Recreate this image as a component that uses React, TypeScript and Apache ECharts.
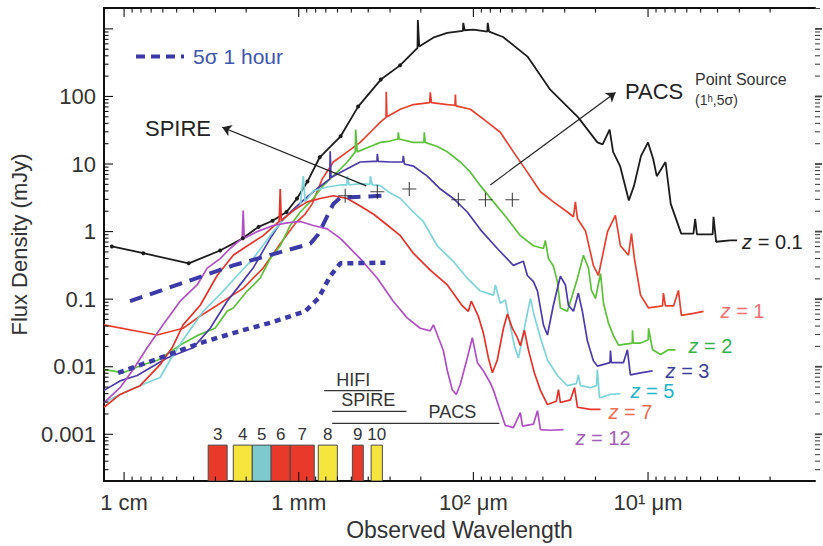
import React, { useEffect, useRef } from "react";
import * as echarts from "echarts";

// All curve values: [log10(wavelength / µm), log10(flux density / mJy)]
const z01: [number, number][] = [
  [4.07, -0.22], [3.89, -0.32], [3.63, -0.47], [3.45, -0.28], [3.32, -0.1], [3.23, 0.07], [3.15, 0.16],
  [3.07, 0.29], [3.01, 0.49], [2.95, 0.74], [2.88, 1.1], [2.76, 1.41], [2.66, 1.85], [2.53, 2.25],
  [2.42, 2.46], [2.32, 2.72], [2.318, 3.13], [2.31, 2.74], [2.23, 2.87], [2.15, 2.94], [2.06, 2.97],
  [2.058, 3.09], [2.05, 2.98], [2.0, 2.99], [1.92, 2.96], [1.918, 3.09], [1.91, 2.96], [1.83, 2.88],
  [1.69, 2.59], [1.56, 2.1], [1.4, 1.69], [1.29, 1.32], [1.26, 1.29], [1.22, 1.51], [1.2, 1.18],
  [1.16, 0.97], [1.11, 0.46], [1.08, 0.68], [1.04, 1.12], [1.0, 1.32], [0.97, 1.07], [0.95, 0.82],
  [0.9, 1.03], [0.87, 0.41], [0.81, -0.03], [0.74, -0.03], [0.73, 0.19], [0.72, -0.04], [0.63, -0.04],
  [0.625, 0.22], [0.61, -0.15], [0.53, -0.13], [0.49, -0.13],
];
const z1: [number, number][] = [
  [4.115, -1.38], [3.811, -1.53], [3.662, -1.43], [3.564, -1.25], [3.467, -1.09], [3.318, -0.84],
  [3.204, -0.54], [3.106, -0.18], [3.02, 0.12], [2.963, 0.26], [2.923, 0.41], [2.865, 0.78],
  [2.802, 1.03], [2.722, 1.18], [2.648, 1.32], [2.59, 1.47], [2.533, 1.62], [2.5, 1.69], [2.499, 2.07],
  [2.495, 1.7], [2.418, 1.81], [2.344, 1.88], [2.25, 1.91], [2.247, 2.06], [2.24, 1.91], [2.149, 1.88],
  [2.105, 1.87], [2.103, 2.03], [2.1, 1.86], [2.017, 1.81], [1.92, 1.62], [1.846, 1.47], [1.771, 1.18],
  [1.691, 0.88], [1.616, 0.59], [1.542, 0.44], [1.462, 0.29], [1.427, 0.22], [1.416, 0.44], [1.404, 0.19],
  [1.358, 0.01], [1.313, -0.5], [1.284, -0.65], [1.232, 0.0], [1.187, 0.24], [1.158, -0.21], [1.112, -0.35],
  [1.095, -0.03], [1.078, -0.4], [1.043, -0.94], [0.997, -1.13], [0.917, -1.1], [0.912, -0.91],
  [0.9, -1.1], [0.854, -1.1], [0.826, -0.87], [0.809, -1.24], [0.74, -1.21], [0.682, -1.18],
];
const z2: [number, number][] = [
  [4.115, -2.04], [4.006, -2.09], [3.891, -1.97], [3.805, -1.9], [3.679, -1.68], [3.582, -1.54],
  [3.479, -1.43], [3.41, -1.18], [3.375, -1.13], [3.295, -0.88], [3.221, -0.69], [3.163, -0.4],
  [3.106, -0.21], [3.049, 0.09], [2.991, 0.29], [2.917, 0.49], [2.86, 0.68], [2.78, 0.88], [2.722, 1.03],
  [2.676, 1.18], [2.674, 1.51], [2.665, 1.18], [2.59, 1.26], [2.533, 1.32], [2.476, 1.34], [2.432, 1.37],
  [2.43, 1.47], [2.425, 1.37], [2.344, 1.32], [2.283, 1.32], [2.281, 1.47], [2.276, 1.32], [2.207, 1.26],
  [2.149, 1.18], [2.075, 1.03], [2.017, 0.88], [1.96, 0.68], [1.885, 0.44], [1.805, 0.19], [1.731, -0.06],
  [1.656, -0.21], [1.599, -0.25], [1.588, -0.13], [1.57, -0.4], [1.542, -0.51], [1.519, -0.74],
  [1.502, -1.13], [1.462, -1.18], [1.433, -0.94], [1.404, -0.69], [1.37, -0.35], [1.341, -0.54],
  [1.324, -0.87], [1.301, -0.99], [1.272, -0.62], [1.255, -1.06], [1.227, -1.35], [1.198, -1.54],
  [1.169, -1.68], [1.09, -1.65], [1.089, -1.46], [1.085, -1.65], [1.043, -1.65], [0.999, -1.6],
  [0.997, -1.43], [0.974, -1.75], [0.928, -1.82], [0.883, -1.75], [0.843, -1.75],
];
const z3: [number, number][] = [
  [4.115, -2.35], [4.023, -2.21], [3.925, -2.13], [3.754, -1.87], [3.605, -1.72], [3.507, -1.43],
  [3.41, -1.03], [3.352, -0.84], [3.261, -0.54], [3.163, -0.1], [3.089, 0.19], [3.009, 0.38],
  [2.917, 0.59], [2.822, 0.78], [2.82, 1.19], [2.815, 0.8], [2.722, 0.93], [2.648, 1.03], [2.573, 1.04],
  [2.552, 1.04], [2.55, 1.15], [2.545, 1.04], [2.476, 1.03], [2.405, 1.03], [2.401, 1.12], [2.395, 1.0],
  [2.344, 0.97], [2.264, 0.82], [2.189, 0.63], [2.115, 0.49], [2.035, 0.29], [1.96, 0.03], [1.863, -0.25],
  [1.771, -0.5], [1.714, -0.44], [1.691, -0.65], [1.656, -0.74], [1.633, -0.88], [1.599, -1.38],
  [1.576, -1.53], [1.542, -1.09], [1.502, -0.66], [1.473, -0.79], [1.456, -1.09], [1.427, -1.18],
  [1.399, -0.91], [1.376, -1.18], [1.347, -1.62], [1.313, -1.91], [1.29, -1.99], [1.218, -1.94],
  [1.215, -1.76], [1.21, -1.94], [1.141, -1.94], [1.118, -1.75], [1.101, -2.12], [1.043, -2.09],
  [0.974, -2.06],
];
const z5: [number, number][] = [
  [4.115, -2.53], [3.966, -2.34], [3.794, -2.16], [3.736, -1.9], [3.662, -1.6], [3.547, -1.18],
  [3.433, -0.88], [3.352, -0.65], [3.261, -0.4], [3.146, 0.0], [3.066, 0.24], [2.991, 0.38],
  [2.974, 0.82], [2.963, 0.44], [2.917, 0.6], [2.837, 0.66], [2.762, 0.69], [2.724, 0.69], [2.722, 0.82],
  [2.711, 0.69], [2.648, 0.71], [2.592, 0.7], [2.59, 0.82], [2.579, 0.69], [2.533, 0.68], [2.476, 0.57],
  [2.418, 0.49], [2.344, 0.29], [2.287, 0.15], [2.207, -0.21], [2.115, -0.44], [2.035, -0.69],
  [1.96, -0.88], [1.885, -0.94], [1.874, -0.79], [1.846, -1.06], [1.817, -1.01], [1.788, -1.4],
  [1.765, -1.69], [1.742, -1.87], [1.719, -1.57], [1.691, -1.21], [1.673, -0.99], [1.651, -1.25],
  [1.616, -1.57], [1.576, -1.9], [1.519, -2.13], [1.462, -2.28], [1.41, -2.25], [1.399, -2.12],
  [1.387, -2.28], [1.33, -2.31], [1.295, -2.28], [1.29, -2.04], [1.278, -2.46], [1.215, -2.41],
  [1.158, -2.4],
];
const z7: [number, number][] = [
  [4.115, -2.6], [4.023, -2.41], [3.908, -2.28], [3.794, -1.97], [3.725, -1.72], [3.662, -1.38],
  [3.564, -1.09], [3.467, -0.65], [3.375, -0.35], [3.318, -0.25], [3.204, -0.06], [3.112, 0.15],
  [3.106, 0.63], [3.1, 0.16], [3.032, 0.31], [2.951, 0.44], [2.877, 0.49], [2.802, 0.53], [2.722, 0.49],
  [2.648, 0.38], [2.573, 0.26], [2.504, 0.12], [2.418, -0.06], [2.344, -0.32], [2.247, -0.57],
  [2.149, -0.79], [2.063, -1.1], [2.029, -1.18], [2.012, -1.03], [1.972, -1.25], [1.943, -1.5],
  [1.914, -1.87], [1.891, -2.09], [1.863, -1.9], [1.828, -1.43], [1.805, -1.22], [1.777, -1.43],
  [1.748, -1.57], [1.731, -1.69], [1.708, -1.46], [1.685, -1.75], [1.651, -2.09], [1.616, -2.35],
  [1.576, -2.56], [1.525, -2.51], [1.513, -2.34], [1.502, -2.53], [1.444, -2.49], [1.421, -2.31],
  [1.404, -2.6], [1.33, -2.63], [1.272, -2.63],
];
const z12: [number, number][] = [
  [4.115, -2.53], [4.023, -2.31], [3.948, -2.04], [3.868, -1.72], [3.777, -1.38], [3.679, -1.03],
  [3.582, -0.79], [3.524, -0.54], [3.45, -0.4], [3.393, -0.25], [3.324, -0.1], [3.318, 0.31],
  [3.312, -0.1], [3.238, 0.0], [3.146, 0.09], [3.066, 0.13], [2.991, 0.15], [2.917, 0.09], [2.837, 0.04],
  [2.762, -0.1], [2.648, -0.4], [2.55, -0.69], [2.459, -1.03], [2.378, -1.28], [2.304, -1.43],
  [2.247, -1.47], [2.229, -1.38], [2.206, -1.53], [2.172, -1.76], [2.149, -2.06], [2.121, -2.34],
  [2.098, -2.41], [2.075, -2.26], [2.035, -1.87], [2.006, -1.57], [1.977, -1.94], [1.943, -2.06],
  [1.903, -2.24], [1.885, -2.35], [1.846, -2.65], [1.817, -2.87], [1.771, -2.9], [1.731, -2.68],
  [1.719, -2.88], [1.656, -2.85], [1.633, -2.65], [1.616, -2.93], [1.559, -2.94], [1.484, -2.93],
];
// 5 sigma, 1 hour sensitivity limits
const sens5SigmaDashed: [number, number][] = [
  [3.966, -1.03], [3.375, -0.5], [2.934, -0.18], [2.888, -0.04], [2.802, 0.41], [2.762, 0.5], [2.516, 0.53],
];
const sensDotted: [number, number][] = [
  [4.034, -2.09], [3.794, -1.87], [3.564, -1.65], [3.335, -1.47], [3.163, -1.35], [2.963, -1.18],
  [2.888, -0.99], [2.82, -0.66], [2.762, -0.47], [2.504, -0.46],
];
// SPIRE / PACS point-source limits (+ markers)
const pointSourceLimits: [number, number][] = [
  [2.734, 0.53], [2.55, 0.59], [2.367, 0.63], [2.086, 0.47], [1.931, 0.47], [1.777, 0.47],
];
// Annotation arrows: [from, to]
const arrowSpire: [number, number][] = [[2.613, 0.676], [3.438, 1.544]];
const arrowPacs: [number, number][] = [[1.903, 0.691], [1.186, 2.059]];

// ALMA bands (wavelength ranges in µm)
const bandNames = ["3", "4", "5", "6", "7", "8", "9", "10"];
const bandRangesUm: [number, number][] = [
  [3300, 2570], [2370, 1845], [1845, 1439], [1439, 1119], [1119, 815], [773, 601], [493, 427], [385, 332],
];
// Instrument coverage (µm): [long end, short end, label position]
const instrumentNames = ["HIFI", "SPIRE", "PACS"];
const instrumentRangesUm: [number, number, number][] = [
  [715, 332, 488], [643, 242, 400], [643, 71, 132],
];

const X_MAJOR = [1, 2, 3, 4];
const X_TICK_LABELS = ["10¹ μm", "10² μm", "1 mm", "1 cm"];
const Y_MAJOR = [-3, -2, -1, 0, 1, 2, 3];
const Y_LABEL_VALUES = [-3, -2, -1, 0, 1, 2];
const Y_TICK_LABELS = ["0.001", "0.01", "0.1", "1", "10", "100"];

const X_MIN = 0.044;
const X_MAX = 4.115;
const Y_MIN = -3.691;
const Y_MAX = 3.309;

const W = 823;
const H = 546;
const GRID = { left: 104, right: 8, top: 8, bottom: 62 };

const FONT = "'Liberation Sans', Arial, Helvetica, sans-serif";
const TXT = "#333";

const minorTicks = (lo: number, hi: number) => {
  const out: number[] = [];
  for (let n = Math.floor(lo); n <= Math.ceil(hi); n++) {
    for (let k = 2; k <= 9; k++) {
      const v = n + Math.log10(k);
      if (v > lo && v < hi) out.push(v);
    }
  }
  return out;
};

const curveStyles = [
  { name: "0.1", data: z01, color: "#1c1c1c", label: "#222222", width: 1.8, gap: 5, dy: 2, markers: 15 },
  { name: "1", data: z1, color: "#e8402f", label: "#f26f72", width: 1.7, gap: 17, dy: 0, markers: 0 },
  { name: "2", data: z2, color: "#5cc23a", label: "#35b24c", width: 1.7, gap: 13, dy: -4, markers: 0 },
  { name: "3", data: z3, color: "#4b3caa", label: "#3b3f9a", width: 1.7, gap: 13, dy: 0, markers: 0 },
  { name: "5", data: z5, color: "#7dd5d8", label: "#1db5c8", width: 1.7, gap: 10, dy: -3, markers: 0 },
  { name: "7", data: z7, color: "#e5332b", label: "#f26c4f", width: 1.7, gap: 8, dy: 3, markers: 0 },
  { name: "12", data: z12, color: "#b24fc6", label: "#a260b6", width: 1.7, gap: 12, dy: 8, markers: 0 },
];

const SENS_COLOR = "#3b3aa8";
const BAND_COLORS = ["#e9392b", "#f5e53c", "#7ccacd", "#e9392b", "#e9392b", "#f5e53c", "#e9392b", "#f5e53c"];
const BAND_TOP_LOG = -3.16;
const INSTRUMENT_LEVELS = [-2.353, -2.662, -2.838];

const baseGraphics = [
  { type: "text", x: 145, y: 128, style: { text: "SPIRE", fontSize: 22, fontFamily: FONT, fill: "#222", verticalAlign: "middle" } },
  { type: "text", x: 625, y: 91, style: { text: "PACS", fontSize: 22, fontFamily: FONT, fill: "#222", verticalAlign: "middle" } },
  { type: "text", x: 695, y: 79, style: { text: "Point Source", fontSize: 16, fontFamily: FONT, fill: "#333", verticalAlign: "middle" } },
  { type: "text", x: 695, y: 100, style: { text: "(1ʰ,5σ)", fontSize: 14, fontFamily: FONT, fill: "#333", verticalAlign: "middle" } },
];

// Tick mark specs: [value, length, major]
const xTickSpecs = () => [...X_MAJOR.map((v) => [v, 9, 1]), ...minorTicks(X_MIN, X_MAX).map((v) => [v, 4.5, 0])];
const yTickSpecs = () => [...Y_MAJOR.map((v) => [v, 9, 1]), ...minorTicks(Y_MIN, Y_MAX).map((v) => [v, 4.5, 0])];

// Tick items for a custom series: [x, y, side(0 bottom,1 top,2 left,3 right), length, major]
function buildTickRows() {
  const rows: number[][] = [];
  xTickSpecs().forEach(([v, len, major]) => {
    rows.push([v, Y_MIN, 0, len, major]);
    rows.push([v, Y_MAX, 1, len, major]);
  });
  yTickSpecs().forEach(([v, len, major]) => {
    rows.push([X_MAX, v, 2, len, major]);
    rows.push([X_MIN, v, 3, major ? 7 : 5, major]);
  });
  return rows;
}

function buildOption() {
  const xCommon = { type: "value", min: X_MIN, max: X_MAX, inverse: true, splitLine: { show: false } };
  const yCommon = { type: "value", min: Y_MIN, max: Y_MAX, splitLine: { show: false } };

  const curveSeries = curveStyles.map((c) => ({
    type: "line",
    name: "z = " + c.name,
    data: c.data.map((p, i) =>
      i < c.markers ? { value: p, symbol: "circle", symbolSize: 4 } : { value: p }
    ),
    showSymbol: true,
    symbol: "none",
    lineStyle: { color: c.color, width: c.width },
    itemStyle: { color: c.color },
    z: 3,
    endLabel: {
      show: true,
      formatter: "{i|z} = " + c.name,
      align: "left",
      distance: 0,
      offset: [c.gap, c.dy],
      color: c.label,
      fontSize: 20,
      fontFamily: FONT,
      rich: { i: { fontStyle: "italic", color: c.label, fontSize: 20, fontFamily: FONT } },
    },
  }));

  return {
    animation: false,
    backgroundColor: "#ffffff",
    grid: GRID,
    legend: {
      show: true,
      left: 131,
      top: 41,
      data: ["5σ 1 hour"],
      icon: "path://M0,0h9v4h-9z M15,0h9v4h-9z M30,0h9v4h-9z M45,0h3v4h-3z",
      itemWidth: 48,
      itemHeight: 4,
      selectedMode: false,
      itemStyle: { color: SENS_COLOR },
      textStyle: { fontSize: 21, color: "#3d55ae", fontFamily: FONT, padding: [0, 0, 0, 4] },
    },
    xAxis: [
      {
        ...xCommon,
        position: "bottom",
        axisLine: { show: true, onZero: false, lineStyle: { color: "#111", width: 2 } },
        axisTick: { show: false },
        axisLabel: {
          show: true,
          customValues: X_MAJOR,
          formatter: (v: number) => X_TICK_LABELS[X_MAJOR.indexOf(Math.round(v))],
          fontSize: 22,
          color: TXT,
          margin: 10,
          fontFamily: FONT,
        },
        name: "Observed Wavelength",
        nameLocation: "middle",
        nameGap: 37,
        nameTextStyle: { fontSize: 23, color: TXT, fontFamily: FONT },
      },
      {
        ...xCommon,
        position: "top",
        axisLine: { show: true, onZero: false, lineStyle: { color: "#111", width: 2 } },
        axisTick: { show: false },
        axisLabel: { show: false },
      },
    ],
    yAxis: [
      {
        ...yCommon,
        position: "left",
        axisLine: { show: true, onZero: false, lineStyle: { color: "#111", width: 2 } },
        axisTick: { show: false },
        axisLabel: {
          show: true,
          customValues: Y_LABEL_VALUES,
          formatter: (v: number) => Y_TICK_LABELS[Y_LABEL_VALUES.indexOf(Math.round(v))],
          fontSize: 22,
          color: TXT,
          margin: 8,
          fontFamily: FONT,
        },
        name: "Flux Density (mJy)",
        nameLocation: "middle",
        nameRotate: 90,
        nameGap: 69,
        nameTextStyle: { fontSize: 22, color: TXT, fontFamily: FONT },
      },
    ],
    graphic: baseGraphics,
    series: [
      {
        type: "custom",
        name: "ALMA bands",
        clip: true,
        z: 2,
        data: bandRangesUm.map((b, i) => [Math.log10(b[0]), Math.log10(b[1]), i]),
        renderItem: (params: any, api: any) => {
          const i = api.value(2);
          const p1 = api.coord([api.value(0), BAND_TOP_LOG]);
          const p2 = api.coord([api.value(1), Y_MIN]);
          const x = Math.min(p1[0], p2[0]);
          const w = Math.abs(p2[0] - p1[0]);
          return {
            type: "group",
            children: [
              {
                type: "rect",
                shape: { x, y: p1[1], width: w, height: p2[1] - p1[1] },
                style: { fill: BAND_COLORS[i], stroke: "#4a4a4a", lineWidth: 1 },
              },
              {
                type: "text",
                style: {
                  text: bandNames[i],
                  x: x + w / 2,
                  y: p1[1] - 11,
                  align: "center",
                  verticalAlign: "middle",
                  fontSize: 17,
                  fontFamily: FONT,
                  fill: TXT,
                },
              },
            ],
          };
        },
      },
      {
        type: "custom",
        name: "Instruments",
        clip: true,
        z: 2,
        data: instrumentRangesUm.map((r, i) => [Math.log10(r[0]), Math.log10(r[1]), Math.log10(r[2]), i]),
        renderItem: (params: any, api: any) => {
          const i = api.value(3);
          const lvl = INSTRUMENT_LEVELS[i];
          const a = api.coord([api.value(0), lvl]);
          const b = api.coord([api.value(1), lvl]);
          const t = api.coord([api.value(2), lvl]);
          return {
            type: "group",
            children: [
              { type: "line", shape: { x1: a[0], y1: a[1], x2: b[0], y2: b[1] }, style: { stroke: "#333", lineWidth: 1.2 } },
              {
                type: "text",
                style: {
                  text: instrumentNames[i],
                  x: t[0],
                  y: t[1] - 11,
                  align: "center",
                  verticalAlign: "middle",
                  fontSize: 18,
                  fontFamily: FONT,
                  fill: TXT,
                },
              },
            ],
          };
        },
      },
      {
        type: "custom",
        name: "Axis ticks",
        z: 7,
        data: buildTickRows(),
        renderItem: (params: any, api: any) => {
          const p = api.coord([api.value(0), api.value(1)]);
          const side = api.value(2);
          const len = api.value(3);
          const major = api.value(4);
          let x2 = p[0];
          let y2 = p[1];
          if (side === 0) y2 = p[1] - len;
          else if (side === 1) y2 = p[1] + len;
          else x2 = p[0] + len;
          return {
            type: "line",
            shape: { x1: p[0], y1: p[1], x2, y2 },
            style: {
              stroke: side === 3 ? "#444" : "#111",
              lineWidth: side === 3 && major ? 1.8 : 1.1,
            },
          };
        },
      },
      {
        type: "line",
        name: "5σ 1 hour",
        data: sens5SigmaDashed,
        symbol: "none",
        showSymbol: false,
        lineStyle: { color: SENS_COLOR, width: 4, type: [13, 8] },
        itemStyle: { color: SENS_COLOR },
        z: 4,
      },
      {
        type: "line",
        name: "limit (dotted)",
        data: sensDotted,
        symbol: "none",
        showSymbol: false,
        lineStyle: { color: SENS_COLOR, width: 4.5, type: [6, 5] },
        itemStyle: { color: SENS_COLOR },
        z: 4,
      },
      ...curveSeries,
      {
        type: "scatter",
        name: "Point source limits",
        data: pointSourceLimits,
        symbol: "path://M6,0h1v6h6v1h-6v6h-1v-6h-6v-1h6z",
        symbolSize: 14,
        itemStyle: { color: "#111" },
        z: 6,
      },
      {
        type: "lines",
        name: "arrows",
        coordinateSystem: "cartesian2d",
        symbol: ["none", "arrow"],
        symbolSize: 9,
        lineStyle: { color: "#222", width: 1.2, curveness: 0, opacity: 1 },
        data: [{ coords: arrowSpire }, { coords: arrowPacs }],
        z: 6,
      },
    ],
  };
}

export default function App() {
  const ref = useRef<HTMLDivElement>(null);
  useEffect(() => {
    if (!ref.current) return;
    const chart = echarts.init(ref.current, null, { renderer: "svg" });
    chart.setOption(buildOption() as any);
    return () => chart.dispose();
  }, []);
  return <div ref={ref} style={{ width: W, height: H, position: "absolute", left: 0, top: 0 }} />;
}
